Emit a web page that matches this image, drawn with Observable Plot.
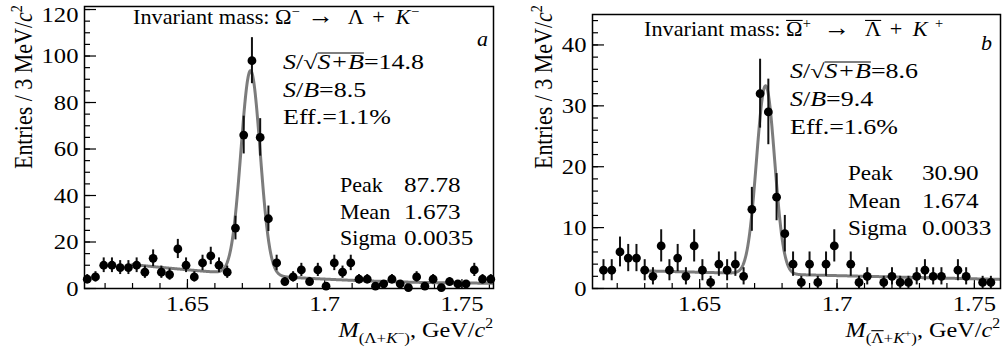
<!DOCTYPE html>
<html>
<head>
<meta charset="utf-8">
<script src="https://cdn.jsdelivr.net/npm/d3@7"></script>
<script src="https://cdn.jsdelivr.net/npm/@observablehq/plot@0.6"></script>
<style>
  body { margin: 0; background: #fff; }
  #wrap { position: relative; width: 1003px; height: 356px; overflow: hidden; }
  #wrap svg { position: absolute; top: 0; overflow: visible; }
  #pa { left: 0; }
  #pb { left: 500px; }
</style>
</head>
<body>
<div id="wrap"></div>
<script>
// ---------------- data ----------------
const BIN = 0.003;                       // 3 MeV/c^2 bins
// Panel a: Omega^- -> Lambda + K^-
const binStartA = 1.6135;
const countsA = [4,5,10,10,9,9,10,7,13,7,6,17,10,5,11,14,10,7,
                 26,66,98,65,30,11,
                 3,5,8,3,8,1,11,7,11,4,4,1,2,4,2,0.4,5,1,4,0.4,3,2,2,8,4,4];
const fitA = [87.78, 1.673, 0.0035];     // peak, mean, sigma
const bgA = [10.3, -121.8, 463.4];       // background polynomial around 1.63
const statNamesA = ["Peak", "Mean", "Sigma"];
const statValuesA = ["87.78", "1.673", "0.0035"];
const ratiosA = ["14.8", "8.5", "1.1%"];

// Panel b: anti-Omega^+ -> anti-Lambda + K^+
const binStartB = 1.615;
const countsB = [3,3,6,5,5,3,2,7,3,5,2,7,3,1,4,3,4,2,
                 13,32,29,15,9,
                 4,1,4,1,4,7,0,4,1,2,0,1,2,1,1,2,3,2,2,0,3,2,0,1,1,0];
const fitB = [30.90, 1.674, 0.0033];
const bgB = [2.9, -11.7, 6.6];
const statNamesB = ["Peak", "Mean", "Sigma"];
const statValuesB = ["30.90", "1.674", "0.0033"];
const ratiosB = ["8.6", "9.4", "1.6%"];

const fitStart = 1.63;
const xMajor = [1.65, 1.7, 1.75];
const xTickLabels = ["1.65", "1.7", "1.75"];
const xMinor = [1.62,1.63,1.64,1.65,1.66,1.67,1.68,1.69,1.70,1.71,1.72,1.73,1.74,1.75,1.76];
const yMajorA = [0,20,40,60,80,100,120];
const yTickLabelsA = ["0","20","40","60","80","100","120"];
const yMinorA = d3.range(0, 121, 5);
const yMajorB = [0,10,20,30,40];
const yTickLabelsB = ["0","10","20","30","40"];
const yMinorB = d3.range(0, 45, 2);

// ---------------- helpers ----------------
const FONT = '"Liberation Serif", "DejaVu Serif", serif';

function richText(g0, {x, y, size, sx = 1, sy = 1, anchor = "start", rotate = 0, parts}) {
  const g = g0.append("g")
    .attr("transform", `translate(${x},${y})` + (rotate ? ` rotate(${rotate})` : "") + ` scale(${sx},${sy})`);
  const t = g.append("text")
    .attr("text-anchor", anchor)
    .attr("font-size", size)
    .attr("font-family", FONT)
    .attr("fill", "#000");
  let cur = 0;
  for (const p of parts) {
    const sh = p.sh || 0;
    const ts = t.append("tspan").text(p.t).attr("dy", cur - sh);
    cur = sh;
    if (p.i) ts.attr("font-style", "italic");
    if (p.s) ts.attr("font-size", size * p.s);
    if (p.dx) ts.attr("dx", p.dx);
  }
  // overlines (anti-particle bars, square-root bar)
  let idx = 0;
  const el = t.node();
  for (const p of parts) {
    const n = p.t.length;
    if (p.o && el.getNumberOfChars() >= idx + n) {
      const a = el.getExtentOfChar(idx), b = el.getExtentOfChar(idx + n - 1);
      const fs = size * (p.s || 1);
      const yy = -(p.sh || 0) - fs * (p.oy || 0.74);
      g.append("line").attr("x1", a.x + (p.ox || 0)).attr("x2", b.x + b.width)
        .attr("y1", yy).attr("y2", yy).attr("stroke", "#000").attr("stroke-width", p.ow || 1.1);
    }
    idx += n;
  }
  return t;
}

function panel(cfg) {
  const pts = cfg.counts.map((v, i) => ({x: cfg.start + i * BIN, y: v}))
    .filter(d => d.y > 0 && d.x <= cfg.xDomain[1]);
  const [A, mu, sg] = cfg.fit;
  const [p0, p1, p2] = cfg.bg;
  const curve = d3.range(fitStart, cfg.xDomain[1], 0.0001).map(x => {
    const u = x - fitStart;
    return {x, y: A * Math.exp(-0.5 * ((x - mu) / sg) ** 2) + p0 + p1 * u + p2 * u * u};
  });
  const minor = xMinor.filter(v => v >= cfg.xDomain[0] && v <= cfg.xDomain[1]);
  const lab = d => cfg.yLabels[cfg.yMajor.indexOf(d)];
  const svg = Plot.plot({
    width: cfg.width, height: 356,
    marginLeft: cfg.ml, marginRight: cfg.mr, marginTop: cfg.mt, marginBottom: 68,
    x: {domain: cfg.xDomain, label: null},
    y: {domain: cfg.yDomain, label: null},
    style: {fontFamily: FONT, fontSize: "22px", color: "#000", background: "transparent", overflow: "visible"},
    marks: [
      Plot.axisX(minor, {tickSize: -5, tickFormat: () => "", label: null, strokeWidth: 1.2}),
      Plot.axisX(xMajor, {tickSize: -9, tickPadding: 16, label: null, strokeWidth: 1.2,
        tickFormat: d => xTickLabels[xMajor.indexOf(d)]}),
      Plot.axisY(cfg.yMinor, {tickSize: -6, tickFormat: () => "", label: null, strokeWidth: 1.2}),
      Plot.axisY(cfg.yMajor, {tickSize: -12, tickFormat: () => "", label: null, strokeWidth: 1.2}),
      Plot.axisY(cfg.yMajor.filter(v => v !== cfg.yTopLabel), {tickSize: 0, tickPadding: 6, label: null, tickFormat: lab}),
      Plot.axisY(cfg.yMajor.filter(v => v === cfg.yTopLabel), {tickSize: 0, tickPadding: 6, label: null, tickFormat: lab, dy: cfg.topDy}),
      Plot.line(curve, {x: "x", y: "y", stroke: "#7c7c7c", strokeWidth: 3, clip: true}),
      Plot.ruleX(pts, {x: "x", y1: d => Math.max(0, d.y - Math.sqrt(d.y)), y2: d => d.y + Math.sqrt(d.y),
        stroke: "#111", strokeWidth: 2}),
      Plot.dot(pts, {x: "x", y: "y", r: 4.4, fill: "#000", stroke: "none"}),
      Plot.frame({stroke: "#000", strokeWidth: 1.5})
    ]
  });
  svg.id = cfg.id;
  // horizontal stretch of tick labels (as in the reference)
  svg.querySelectorAll('g[aria-label$="tick label"] text').forEach(t => {
    const tr = t.getAttribute("transform");
    if (tr) t.setAttribute("transform", tr + " scale(1.12,1)");
  });
  document.getElementById("wrap").appendChild(svg);
  return d3.select(svg).append("g").attr("class", "annot");
}

// ---------------- panel a ----------------
const ga = panel({id: "pa", width: 500, ml: 84, mr: 7, mt: 6,
  xDomain: [1.6125, 1.7615], yDomain: [0, 121.3],
  yMajor: yMajorA, yMinor: yMinorA, yLabels: yTickLabelsA, yTopLabel: 120, topDy: 5,
  counts: countsA, start: binStartA, fit: fitA, bg: bgA});

richText(ga, {x: 133, y: 24, size: 21, sx: 1.06, parts: [
  {t: "Invariant mass: "}, {t: "Ω"}, {t: "−", s: 0.65, sh: 8},
  {t: "→", s: 1.2, dx: 7}, {t: "Λ", dx: 13}, {t: "+", dx: 8}, {t: "K", i: true, dx: 10},
  {t: "−", s: 0.65, sh: 8, dx: 1}]});
richText(ga, {x: 477, y: 46, size: 22, parts: [{t: "a", i: true}]});
richText(ga, {x: 283, y: 69, size: 20, sx: 1.3, parts: [
  {t: "S", i: true}, {t: "/√"}, {t: "S+B", o: true, i: true, oy: 0.8}, {t: "=" + ratiosA[0]}]});
richText(ga, {x: 283, y: 97, size: 20, sx: 1.3, parts: [
  {t: "S", i: true}, {t: "/"}, {t: "B", i: true}, {t: "=" + ratiosA[1]}]});
richText(ga, {x: 283, y: 124, size: 20, sx: 1.3, parts: [{t: "Eff.=" + ratiosA[2]}]});
statNamesA.forEach((n, i) => {
  richText(ga, {x: 340, y: 192 + i * 26.7, size: 21, sx: 1.05, parts: [{t: n}]});
  richText(ga, {x: 404, y: 192 + i * 26.7, size: 21, sx: 1.2, parts: [{t: statValuesA[i]}]});
});
richText(ga, {x: 493, y: 337, size: 22, sx: 1.1, anchor: "end", parts: [
  {t: "M", i: true}, {t: "(Λ+", s: 0.7, sh: -6}, {t: "K", i: true, s: 0.7, sh: -6},
  {t: "−", s: 0.5, sh: 0}, {t: ")", s: 0.7, sh: -6}, {t: ", GeV/"}, {t: "c", i: true},
  {t: "2", s: 0.65, sh: 9}]});
richText(ga, {x: 32, y: 5, size: 22, sy: 1.15, rotate: -90, anchor: "end", parts: [
  {t: "Entries / 3 MeV/"}, {t: "c", i: true}, {t: "2", s: 0.65, sh: 9}]});

// ---------------- panel b ----------------
const gb = panel({id: "pb", width: 503, ml: 92, mr: 3, mt: 14,
  xDomain: [1.611, 1.7595], yDomain: [0, 45],
  yMajor: yMajorB, yMinor: yMinorB, yLabels: yTickLabelsB, yTopLabel: null, topDy: 0,
  counts: countsB, start: binStartB, fit: fitB, bg: bgB});

richText(gb, {x: 144, y: 36, size: 21, sx: 1.06, parts: [
  {t: "Invariant mass: "}, {t: "Ω", o: true}, {t: "+", s: 0.65, sh: 8},
  {t: "→", s: 1.2, dx: 12}, {t: "Λ", o: true, dx: 14}, {t: "+", dx: 8}, {t: "K", i: true, dx: 10},
  {t: "+", s: 0.65, sh: 8, dx: 7}]});
richText(gb, {x: 481, y: 50, size: 22, parts: [{t: "b", i: true}]});
richText(gb, {x: 290, y: 78, size: 20, sx: 1.3, parts: [
  {t: "S", i: true}, {t: "/√"}, {t: "S+B", o: true, i: true, oy: 0.8}, {t: "=" + ratiosB[0]}]});
richText(gb, {x: 290, y: 106, size: 20, sx: 1.3, parts: [
  {t: "S", i: true}, {t: "/"}, {t: "B", i: true}, {t: "=" + ratiosB[1]}]});
richText(gb, {x: 290, y: 134, size: 20, sx: 1.3, parts: [{t: "Eff.=" + ratiosB[2]}]});
statNamesB.forEach((n, i) => {
  richText(gb, {x: 348, y: 180 + i * 27.5, size: 21, sx: 1.1, parts: [{t: n}]});
  richText(gb, {x: 422, y: 180 + i * 27.5, size: 21, sx: 1.2, parts: [{t: statValuesB[i]}]});
});
richText(gb, {x: 500, y: 337, size: 22, sx: 1.1, anchor: "end", parts: [
  {t: "M", i: true}, {t: "(", s: 0.7, sh: -6}, {t: "Λ", s: 0.7, sh: -6, o: true, oy: 0.8}, {t: "+", s: 0.7, sh: -6},
  {t: "K", i: true, s: 0.7, sh: -6}, {t: "+", s: 0.5, sh: 0}, {t: ")", s: 0.7, sh: -6},
  {t: ", GeV/"}, {t: "c", i: true}, {t: "2", s: 0.65, sh: 9}]});
richText(gb, {x: 52, y: 5, size: 22, sy: 1.15, rotate: -90, anchor: "end", parts: [
  {t: "Entries / 3 MeV/"}, {t: "c", i: true}, {t: "2", s: 0.65, sh: 9}]});
</script>
</body>
</html>
